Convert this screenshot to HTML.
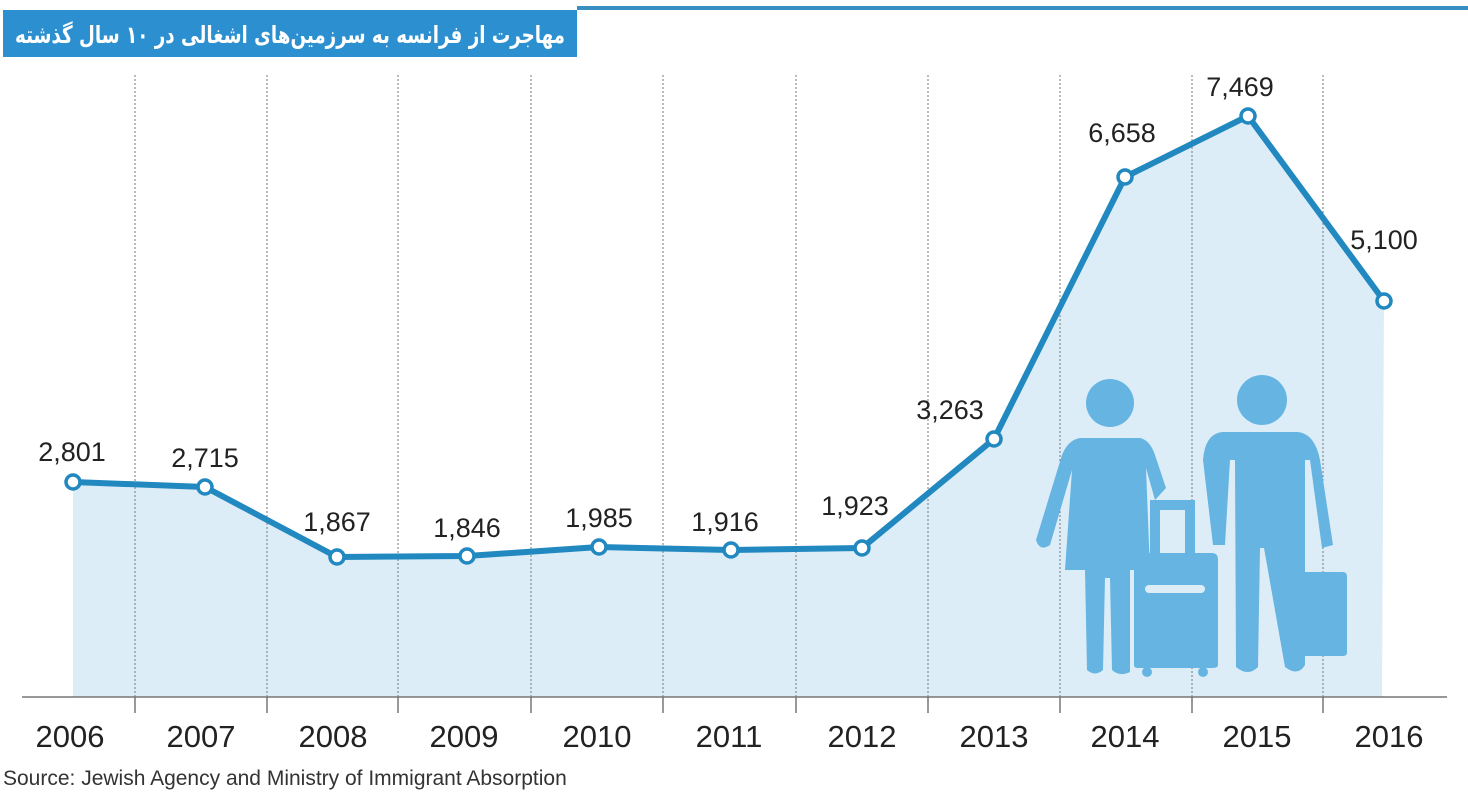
<!DOCTYPE html>
<html><head><meta charset="utf-8"><style>
body{margin:0;background:#fff;width:1468px;height:793px;overflow:hidden;font-family:"Liberation Sans",sans-serif}
</style></head><body>
<svg width="1468" height="793" viewBox="0 0 1468 793" xmlns="http://www.w3.org/2000/svg">
<rect x="577" y="6" width="891" height="4" fill="#3a8fc2"/>
<rect x="3" y="10" width="574" height="47" fill="#2b8fd0"/>
<text x="290" y="43" text-anchor="middle" font-family="'DejaVu Sans',sans-serif" font-weight="bold" font-size="24" fill="#fff" direction="rtl" textLength="550" lengthAdjust="spacingAndGlyphs">مهاجرت از فرانسه به سرزمین‌های اشغالی در ۱۰ سال گذشته</text>
<polygon points="73,482 205,487 337,557 467,556 599,547 731,550 862,548 994,439 1125,177 1248,116 1384,301 1382,697 73,697" fill="#dcedf8"/>
<g stroke="#777" stroke-width="1" stroke-dasharray="2,2">
<line x1="135" y1="75" x2="135" y2="697"/><line x1="267" y1="75" x2="267" y2="697"/><line x1="398" y1="75" x2="398" y2="697"/><line x1="531" y1="75" x2="531" y2="697"/><line x1="663" y1="75" x2="663" y2="697"/><line x1="796" y1="75" x2="796" y2="697"/><line x1="928" y1="75" x2="928" y2="697"/><line x1="1060" y1="75" x2="1060" y2="697"/><line x1="1192" y1="75" x2="1192" y2="697"/><line x1="1323" y1="75" x2="1323" y2="697"/>
</g>
<g fill="#66b4e2">
<circle cx="1110" cy="403" r="24"/>
<path d="M1080,438 L1140,438 Q1150,440 1155,455 L1166,488 L1155,500 L1146,468 L1150,570 L1130,570 L1130,672 Q1120,677 1112,670 L1110,578 L1105,578 L1103,670 Q1095,677 1087,670 L1085,570 L1065,570 L1072,470 L1050,545 Q1040,552 1036,540 L1062,455 Q1068,440 1080,438 Z"/>
<circle cx="1262" cy="400" r="25"/>
<path d="M1222,432 L1298,432 Q1315,434 1320,460 L1333,545 L1322,548 L1310,460 L1305,460 L1305,665 Q1298,677 1285,667 L1264,548 L1260,548 L1258,667 Q1248,677 1236,667 L1235,460 L1230,460 L1225,545 L1213,545 L1203,460 Q1205,434 1222,432 Z"/>
<path d="M1300,572 L1343,572 Q1347,572 1347,577 L1347,652 Q1347,656 1343,656 L1300,656 Q1297,656 1297,652 L1297,577 Q1297,572 1300,572 Z"/>
<path d="M1150,500 L1195,500 L1195,555 L1185,555 L1185,510 L1160,510 L1160,555 L1150,555 Z"/>
<path d="M1138,553 L1212,553 Q1218,553 1218,560 L1218,665 Q1218,668 1212,668 L1138,668 Q1134,668 1134,665 L1134,560 Q1134,553 1138,553 Z"/>
<circle cx="1147" cy="672" r="5"/><circle cx="1203" cy="672" r="5"/>
</g>
<rect x="1145" y="585" width="60" height="8" rx="4" fill="#dcedf8"/>
<line x1="22" y1="697" x2="1447" y2="697" stroke="#777" stroke-width="1.5"/>
<g stroke="#777" stroke-width="1.5">
<line x1="135" y1="697" x2="135" y2="713"/><line x1="267" y1="697" x2="267" y2="713"/><line x1="398" y1="697" x2="398" y2="713"/><line x1="531" y1="697" x2="531" y2="713"/><line x1="663" y1="697" x2="663" y2="713"/><line x1="796" y1="697" x2="796" y2="713"/><line x1="928" y1="697" x2="928" y2="713"/><line x1="1060" y1="697" x2="1060" y2="713"/><line x1="1192" y1="697" x2="1192" y2="713"/><line x1="1323" y1="697" x2="1323" y2="713"/>
</g>
<polyline points="73,482 205,487 337,557 467,556 599,547 731,550 862,548 994,439 1125,177 1248,116 1384,301" fill="none" stroke="#2188c0" stroke-width="6" stroke-linejoin="round"/>
<g fill="#fff" stroke="#2188c0" stroke-width="3.5">
<circle cx="73" cy="482" r="7"/><circle cx="205" cy="487" r="7"/><circle cx="337" cy="557" r="7"/><circle cx="467" cy="556" r="7"/><circle cx="599" cy="547" r="7"/><circle cx="731" cy="550" r="7"/><circle cx="862" cy="548" r="7"/><circle cx="994" cy="439" r="7"/><circle cx="1125" cy="177" r="7"/><circle cx="1248" cy="116" r="7"/><circle cx="1384" cy="301" r="7"/>
</g>
<g font-size="27" fill="#222" text-anchor="middle">
<text x="72" y="461">2,801</text><text x="205" y="467">2,715</text><text x="337" y="531">1,867</text><text x="467" y="537">1,846</text><text x="599" y="527">1,985</text><text x="725" y="531">1,916</text><text x="855" y="515">1,923</text><text x="950" y="419">3,263</text><text x="1122" y="142">6,658</text><text x="1240" y="96">7,469</text><text x="1384" y="249">5,100</text>
</g>
<g font-size="31" fill="#222" text-anchor="middle">
<text x="70" y="747">2006</text><text x="201" y="747">2007</text><text x="333" y="747">2008</text><text x="464" y="747">2009</text><text x="597" y="747">2010</text><text x="729" y="747">2011</text><text x="862" y="747">2012</text><text x="994" y="747">2013</text><text x="1125" y="747">2014</text><text x="1257" y="747">2015</text><text x="1389" y="747">2016</text>
</g>
<text x="3" y="785" font-size="21" fill="#333">Source: Jewish Agency and Ministry of Immigrant Absorption</text>
</svg>
</body></html>
